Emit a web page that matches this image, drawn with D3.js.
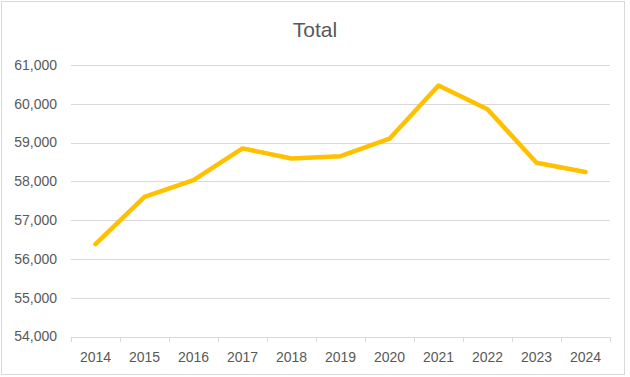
<!DOCTYPE html>
<html>
<head>
<meta charset="utf-8">
<script src="https://cdn.jsdelivr.net/npm/d3@7"></script>
<style>
  body { margin: 0; background: #fff; }
  svg { display: block; font-family: "Liberation Sans", Arial, sans-serif; }
</style>
</head>
<body>
<div id="chart"></div>
<script>
// data
var years = ["2014", "2015", "2016", "2017", "2018", "2019", "2020", "2021", "2022", "2023", "2024"];
var totals = [56380, 57600, 58030, 58850, 58590, 58650, 59100, 60470, 59860, 58480, 58240];
var yTicks = [54000, 55000, 56000, 57000, 58000, 59000, 60000, 61000];

var width = 630, height = 377;
var margin = {top: 65, right: 20, bottom: 40.5, left: 71};

var svg = d3.select("#chart")
    .append("svg")
    .attr("width", width)
    .attr("height", height);

// chart frame
svg.append("rect")
    .attr("x", 1.5).attr("y", 1.5)
    .attr("width", 623).attr("height", 373)
    .attr("fill", "#fff")
    .attr("stroke", "#d9d9d9")
    .attr("stroke-width", 1);

var x = d3.scaleBand()
    .domain(years)
    .range([margin.left, 610]);

var y = d3.scaleLinear()
    .domain([54000, 61000])
    .range([height - margin.bottom, margin.top]);

// gridlines
svg.append("g")
    .selectAll("line")
    .data(yTicks)
    .enter().append("line")
    .attr("x1", margin.left)
    .attr("x2", 610)
    .attr("y1", function (d) { return Math.round(y(d)) + 0.5; })
    .attr("y2", function (d) { return Math.round(y(d)) + 0.5; })
    .attr("stroke", "#d9d9d9")
    .attr("stroke-width", 1);

// y labels
svg.append("g")
    .selectAll("text")
    .data(yTicks)
    .enter().append("text")
    .attr("x", 57)
    .attr("y", function (d) { return y(d); })
    .attr("dy", "0.35em")
    .attr("text-anchor", "end")
    .attr("font-size", 14)
    .attr("fill", "#595959")
    .text(function (d) { return d3.format(",")(d); });

// x axis ticks
var tickEdges = years.map(function (d) { return x(d); }).concat([610]);
svg.append("g")
    .selectAll("line")
    .data(tickEdges)
    .enter().append("line")
    .attr("x1", function (d) { return Math.round(d) + 0.5; })
    .attr("x2", function (d) { return Math.round(d) + 0.5; })
    .attr("y1", Math.round(y(54000)))
    .attr("y2", Math.round(y(54000)) + 5)
    .attr("stroke", "#d9d9d9");

svg.append("g")
    .selectAll("text")
    .data(years)
    .enter().append("text")
    .attr("x", function (d) { return x(d) + x.bandwidth() / 2; })
    .attr("y", 362)
    .attr("text-anchor", "middle")
    .attr("font-size", 14)
    .attr("fill", "#595959")
    .text(function (d) { return d; });

// line
var line = d3.line()
    .x(function (d, i) { return x(years[i]) + x.bandwidth() / 2; })
    .y(function (d) { return y(d); });

svg.append("path")
    .datum(totals)
    .attr("d", line)
    .attr("fill", "none")
    .attr("stroke", "#ffc000")
    .attr("stroke-width", 4.5)
    .attr("stroke-linejoin", "round")
    .attr("stroke-linecap", "round");

// title
svg.append("text")
    .attr("x", 315)
    .attr("y", 37)
    .attr("text-anchor", "middle")
    .attr("font-size", 21)
    .attr("fill", "#595959")
    .text("Total");
</script>
</body>
</html>
